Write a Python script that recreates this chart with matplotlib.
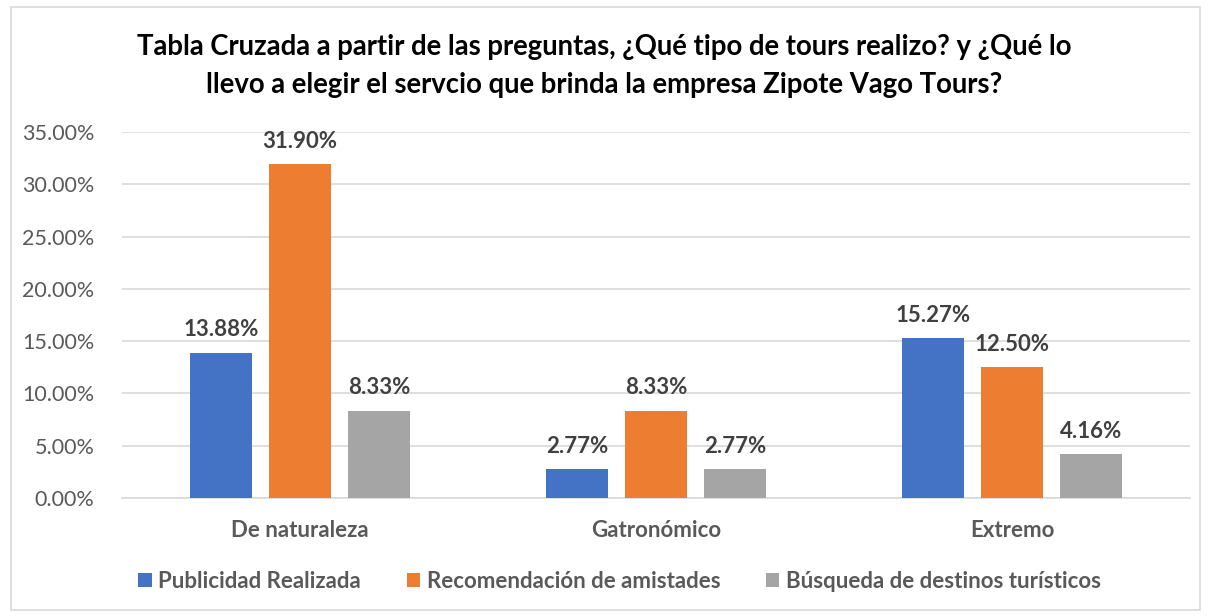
import matplotlib
matplotlib.use("Agg")
import matplotlib.pyplot as plt
import numpy as np
from matplotlib.ticker import FuncFormatter
from matplotlib.patches import Rectangle

categories = ["De naturaleza", "Gatronómico", "Extremo"]
series_names = ["Publicidad Realizada", "Recomendación de amistades", "Búsqueda de destinos turísticos"]
publicidad = [13.88, 2.77, 15.27]
recomendacion = [31.90, 8.33, 12.50]
busqueda = [8.33, 2.77, 4.16]
colors = ["#4472C4", "#ED7D31", "#A5A5A5"]
yticks = [0, 5, 10, 15, 20, 25, 30, 35]

plt.rcParams['font.family'] = ['Lato', 'DejaVu Sans']

fig = plt.figure(figsize=(12.09, 6.16), dpi=100)
ax = fig.add_axes([122/1209, 1-498/616, (1190-122)/1209, (498-132)/616])

x = np.arange(len(categories))
width = 0.174
step = 0.222
for i, (vals, name) in enumerate(zip([publicidad, recomendacion, busqueda], series_names)):
    pos = x + (i - 1) * step
    bars = ax.bar(pos, vals, width=width, color=colors[i], label=name, zorder=3)
    for b, v in zip(bars, vals):
        ax.annotate(f"{v:.2f}%", (b.get_x() + b.get_width()/2, v), xytext=(0, 9),
                    textcoords="offset points", ha="center", va="bottom",
                    fontsize=16, fontweight="bold", color="#404040")

ax.set_xlim(-0.5, 2.5)
ax.set_ylim(0, 35)
ax.set_yticks(yticks)
ax.yaxis.set_major_formatter(FuncFormatter(lambda v, p: f"{v:.2f}%"))
ax.grid(axis="y", color="#D9D9D9", linewidth=1.2, zorder=0)
ax.set_xticks(x)
ax.set_xticklabels(categories, fontsize=16, fontweight="bold", color="#595959")
ax.tick_params(axis="y", labelsize=15.5, colors="#595959", length=0, pad=20)
ax.tick_params(axis="x", length=0, pad=16)
for s in ["top", "right", "left"]:
    ax.spines[s].set_visible(False)
ax.spines["bottom"].set_color("#D9D9D9")
ax.spines["bottom"].set_linewidth(1.2)

fig.text(0.5, 1-66/616, "Tabla Cruzada a partir de las preguntas, ¿Qué tipo de tours realizo? y ¿Qué lo\nllevo a elegir el servcio que brinda la empresa Zipote Vago Tours?",
         ha="center", va="center", fontsize=19.8, fontweight="bold", color="black", linespacing=1.55)

leg = fig.legend(loc="center", bbox_to_anchor=(0.5 + 15/1209, 1-581/616), ncol=3, frameon=False,
                 fontsize=16, handlelength=0.6, handleheight=0.6, columnspacing=2.05, handletextpad=0.3)
for t in leg.get_texts():
    t.set_color("#595959")
    t.set_fontweight("bold")

fig.patches.append(Rectangle((11/1209, 1-610/616), (1200-11)/1209, (610-7)/616, transform=fig.transFigure,
                             fill=False, edgecolor="#D9D9D9", linewidth=1.2))

fig.savefig("out.png", dpi=100)
